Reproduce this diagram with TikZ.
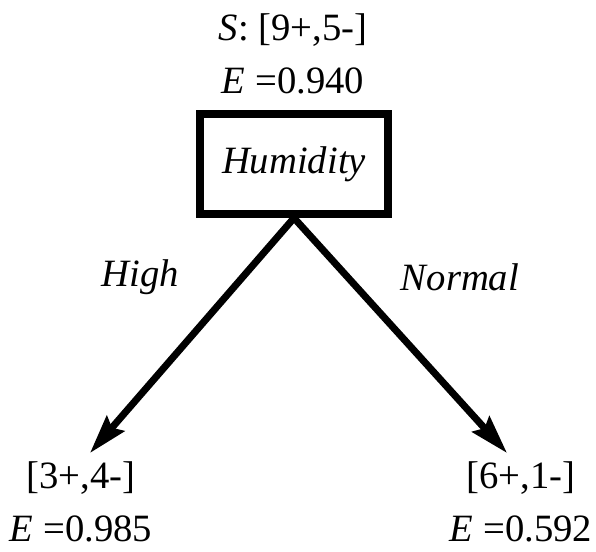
\documentclass[tikz,border=0pt]{standalone}
\usepackage{fontspec}
\setmainfont{Liberation Serif}
\usetikzlibrary{arrows.meta}

\begin{document}
\begin{tikzpicture}[
  lbl/.style={align=center, inner sep=0pt, font=\fontsize{22}{30}\selectfont},
  attr/.style={draw, line width=4.5pt, minimum width=3.76cm, minimum height=2cm, inner sep=0pt, font=\fontsize{22}{28}\selectfont\itshape},
  branch/.style={line width=4pt, -{Stealth[length=22pt, width=13pt, inset=3pt]}}
]
\useasboundingbox (0,0) rectangle (11.92,-11.02);
\node[lbl] (root) at (5.86,-1.08) {\textit{S}: [9+,5-]\\\textit{E} =0.940};
\node[lbl] (humidity) [attr] at (5.88,-3.28) {Humidity};
\node[lbl] (highleaf) at (1.62,-10.03) {[3+,4-]\\\textit{E} =0.985};
\node[lbl] (normalleaf) at (10.42,-10.03) {[6+,1-]\\\textit{E} =0.592};
\node[lbl, font=\fontsize{22}{28}\selectfont\itshape] (high) at (2.8,-5.55) {High};
\node[lbl, font=\fontsize{22}{28}\selectfont\itshape] (normal) at (9.2,-5.55) {Normal};
\coordinate (hightip) at (1.8,-9.06);
\coordinate (normaltip) at (10.14,-9.06);

\draw[branch] (humidity.south) -- (hightip);
\draw[branch] (humidity.south) -- (normaltip);
\end{tikzpicture}
\end{document}
